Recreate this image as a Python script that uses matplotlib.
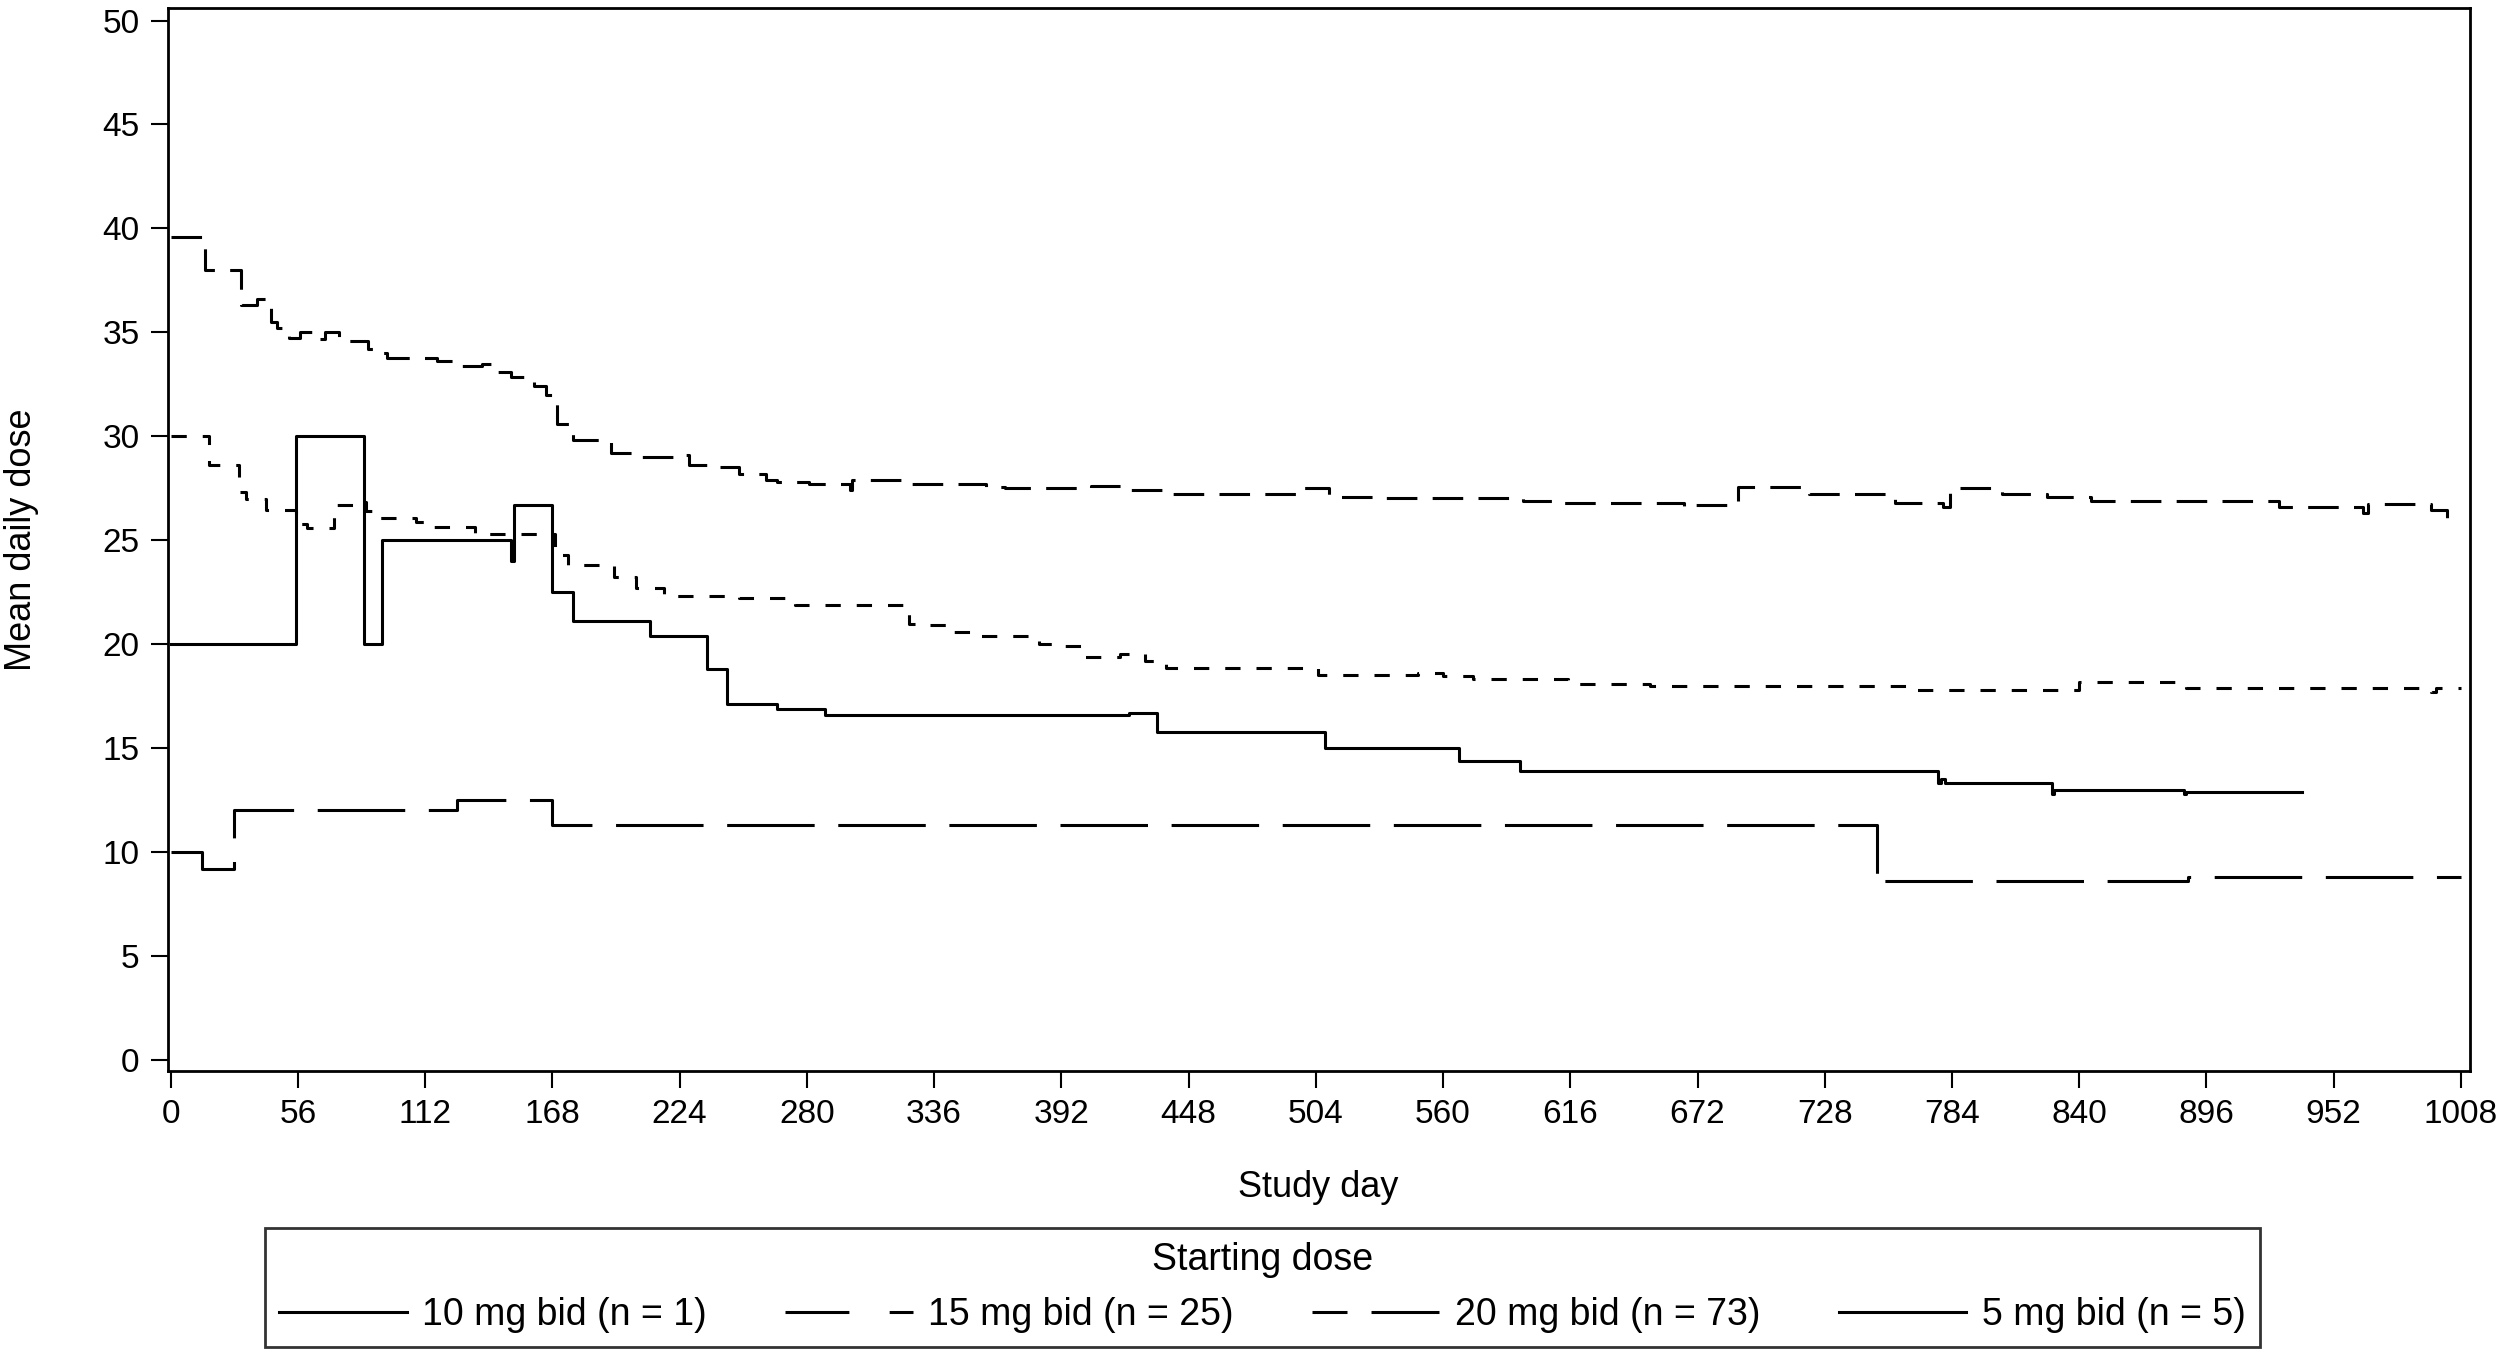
import matplotlib
matplotlib.use("Agg")
import matplotlib.pyplot as plt
from matplotlib.lines import Line2D

plt.rcParams["font.family"] = ["Liberation Sans", "DejaVu Sans"]
plt.rcParams["lines.scale_dashes"] = False

# step data: day where the mean daily dose changes, and the new value
days_10 = [0, 55, 85, 93, 150, 151, 168, 177, 211, 236, 245, 267, 288, 422, 434,
           508, 567, 594, 778, 779, 781, 828, 829, 886, 887, 938]
dose_10 = [20, 30, 20, 25, 24, 26.7, 22.5, 21.1, 20.4, 18.8, 17.1, 16.9, 16.6, 16.7, 15.75,
           15.0, 14.4, 13.9, 13.3, 13.5, 13.3, 12.8, 13.0, 12.8, 12.9, 12.9]

days_15 = [0, 17, 30, 33, 42, 55, 60, 72, 84, 86, 92, 108, 116, 134, 169, 175, 195,
           205, 217, 250, 275, 325, 332, 342, 352, 382, 388, 402, 418, 429, 438, 505,
           549, 560, 573, 615, 651, 764, 840, 887, 995, 997, 1008]
dose_15 = [30, 28.6, 27.3, 27.0, 26.45, 25.8, 25.6, 26.7, 26.85, 26.4, 26.05, 25.9, 25.65,
           25.3, 24.3, 23.8, 23.25, 22.7, 22.3, 22.2, 21.9, 20.95, 20.9, 20.6, 20.4, 20.0,
           19.9, 19.4, 19.55, 19.2, 18.85, 18.5, 18.6, 18.45, 18.3, 18.1, 18.0, 17.8, 18.2,
           17.9, 17.7, 17.9, 17.9]

days_20 = [0, 15, 31, 38, 44, 47, 52, 57, 62, 68, 74, 87, 91, 95, 117, 125, 137, 143,
           150, 160, 165, 170, 177, 194, 204, 222, 228, 237, 250, 262, 267, 281, 299, 300,
           325, 359, 367, 405, 421, 438, 496, 510, 532, 595, 613, 666, 668, 690, 721, 759,
           780, 783, 806, 826, 845, 928, 965, 967, 995, 1002, 1008]
dose_20 = [39.6, 38.0, 36.3, 36.6, 35.5, 35.2, 34.75, 35.0, 34.7, 35.0, 34.6, 34.2, 34.0,
           33.75, 33.6, 33.4, 33.5, 33.1, 32.85, 32.4, 32.0, 30.6, 29.8, 29.2, 29.0, 29.1,
           28.6, 28.5, 28.2, 27.9, 27.8, 27.7, 27.4, 27.9, 27.7, 27.55, 27.5, 27.6, 27.4,
           27.2, 27.5, 27.1, 27.05, 26.9, 26.8, 26.6, 26.7, 27.55, 27.2, 26.8, 26.6, 27.5,
           27.2, 27.1, 26.9, 26.6, 26.3, 26.75, 26.45, 26.0, 26.0]

days_5 = [0, 14, 28, 126, 168, 751, 754, 888, 1008]
dose_5 = [10, 9.2, 12.0, 12.5, 11.3, 8.4, 8.6, 8.8, 8.8]

labels = ["10 mg bid (n = 1)", "15 mg bid (n = 25)", "20 mg bid (n = 73)", "5 mg bid (n = 5)"]
x_ticks = list(range(0, 1009, 56))
y_ticks = list(range(0, 51, 5))

fig = plt.figure(figsize=(25, 13.49), dpi=100)
ax = fig.add_axes([0.067, 0.206, 0.921, 0.788])

lw = 2.2
ax.plot(days_20, dose_20, drawstyle="steps-post", color="black", lw=lw, dashes=(22, 11))
ax.plot(days_15, dose_15, drawstyle="steps-post", color="black", lw=lw, dashes=(11, 11.5))
ax.plot(days_5, dose_5, drawstyle="steps-post", color="black", lw=lw, dashes=(63, 17))
ax.plot(days_10, dose_10, drawstyle="steps-post", color="black", lw=lw)

ax.set_xlim(-1.4, 1012)
ax.set_ylim(-0.54, 50.6)
ax.set_xticks(x_ticks)
ax.set_yticks(y_ticks)
ax.tick_params(axis="both", labelsize=24, length=12, width=1.5, pad=8, colors="black")
for s in ax.spines.values():
    s.set_linewidth(2)

ax.set_xlabel("Study day", fontsize=26)
ax.set_ylabel("Mean daily dose", fontsize=26)
ax.xaxis.set_label_coords(0.5, -0.093)
ax.yaxis.set_label_coords(-0.056, 0.5)

# legend handles as drawn in the key
handles = [
    Line2D([], [], color="black", lw=lw),
    Line2D([], [], color="black", lw=lw, linestyle=(0, (46, 29))),
    Line2D([], [], color="black", lw=lw, linestyle=(24.5, (49.7, 17.3))),
    Line2D([], [], color="black", lw=lw),
]
leg = fig.legend(handles, labels, loc="lower left",
                 bbox_to_anchor=(0.106, 0.0015, 0.798, 0.0915), mode="expand",
                 ncol=4, title="Starting dose", fontsize=27, title_fontsize=27,
                 frameon=True, fancybox=False, edgecolor="black", borderaxespad=0,
                 handlelength=3.4, handletextpad=0.42, borderpad=0.38)
leg.get_frame().set_linewidth(2)

fig.savefig("out.png", dpi=100, facecolor="white")
